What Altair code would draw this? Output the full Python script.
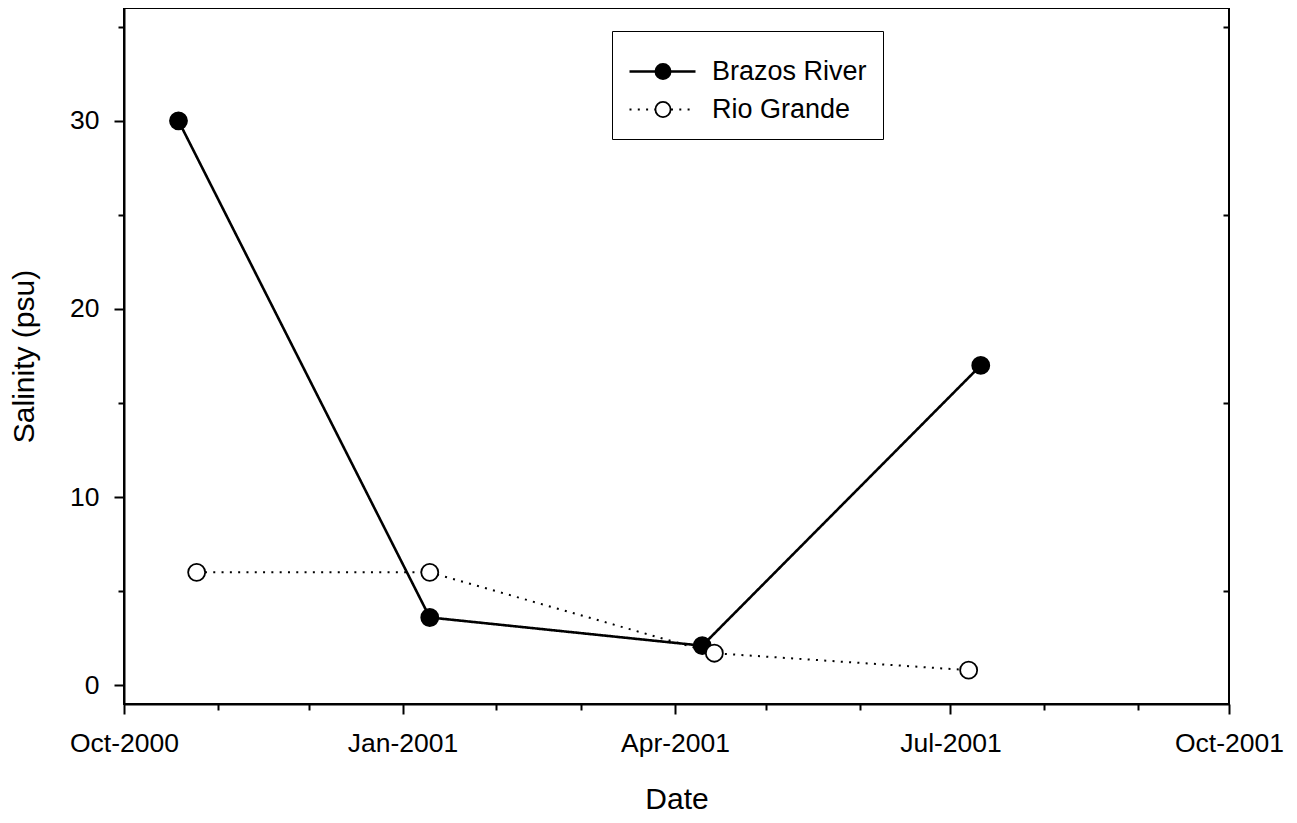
import altair as alt
import pandas as pd

# ---- data ----
brazos_dates = ["2000-10-19", "2001-01-10", "2001-04-10", "2001-07-11"]
brazos_salinity = [30.0, 3.6, 2.1, 17.0]
rio_dates = ["2000-10-25", "2001-01-10", "2001-04-14", "2001-07-07"]
rio_salinity = [6.0, 6.0, 1.7, 0.8]
series_names = ["Brazos River", "Rio Grande"]

major_ticks = [(2000, 10), (2001, 1), (2001, 4), (2001, 7), (2001, 10)]
minor_ticks = [(2000, 11), (2000, 12), (2001, 2), (2001, 3), (2001, 5),
               (2001, 6), (2001, 8), (2001, 9)]
y_major = [0, 10, 20, 30]
y_minor = [5, 15, 25, 35]

rows = []
for d, v in zip(brazos_dates, brazos_salinity):
    rows.append({"Date": d, "Salinity": v, "River": series_names[0]})
for d, v in zip(rio_dates, rio_salinity):
    rows.append({"Date": d, "Salinity": v, "River": series_names[1]})
df = pd.DataFrame(rows)
df["Site"] = df["River"]

FONT = "Liberation Sans"


def dt(y, m):
    return alt.DateTime(year=y, month=m, date=1, utc=True)


x_scale = alt.Scale(type="utc", domain=[dt(2000, 10), dt(2001, 10)])
y_scale = alt.Scale(domain=[-1, 36], nice=False, zero=False)

LEG_Y = 23
LEG_PAD = 16
LEG_TITLE = 11

base = alt.Chart(df)

lines = base.mark_line(color="black", strokeCap="butt").encode(
    x=alt.X("Date:T", scale=x_scale,
            axis=alt.Axis(orient="bottom", values=[dt(*t) for t in major_ticks],
                          format="%b-%Y", tickSize=10, labelPadding=16,
                          labelFlush=False, labelOverlap=False,
                          title="Date", titlePadding=28)),
    y=alt.Y("Salinity:Q", scale=y_scale,
            axis=alt.Axis(orient="left", values=y_major, tickSize=10,
                          labelPadding=15, title="Salinity (psu)", titlePadding=30)),
    strokeDash=alt.StrokeDash(
        "River:N",
        scale=alt.Scale(range=[[1, 0], [2, 6.3]]),
        legend=alt.Legend(
            orient="none", legendX=488, legendY=LEG_Y, title=" ",
            titleFontSize=LEG_TITLE, titlePadding=0, padding=LEG_PAD,
            symbolType="stroke", symbolSize=4356, symbolStrokeWidth=2.2,
            symbolStrokeColor="black", clipHeight=27, rowPadding=10,
            labelOffset=15, labelFont=FONT, labelFontSize=27,
            labelColor="black", labelLimit=400,
            strokeColor="black",
        ),
    ),
    strokeWidth=alt.StrokeWidth("River:N", scale=alt.Scale(range=[2.6, 2.0]),
                                legend=None),
)

points = base.mark_point(filled=True, size=290, stroke="black",
                         strokeWidth=1.8, opacity=1).encode(
    x=alt.X("Date:T", scale=x_scale,
            axis=alt.Axis(orient="bottom", values=[dt(*t) for t in minor_ticks],
                          tickSize=6, labels=False, domain=False, title=None)),
    y=alt.Y("Salinity:Q", scale=y_scale,
            axis=alt.Axis(orient="left", values=y_minor, tickSize=6,
                          labels=False, domain=False, title=None)),
    fill=alt.Fill(
        "Site:N",
        scale=alt.Scale(range=["black", "white"]),
        legend=alt.Legend(
            orient="none", legendX=509.5, legendY=LEG_Y, title=" ",
            titleFontSize=LEG_TITLE, titlePadding=0, padding=LEG_PAD,
            symbolType="circle", symbolSize=230, symbolStrokeWidth=1.8,
            symbolStrokeColor="black", clipHeight=27, rowPadding=10,
            labelFont=FONT, labelFontSize=27, labelExpr="''",
            zindex=1,
        ),
    ),
)

right_ticks = base.mark_point(opacity=0).encode(
    x=alt.X("Date:T", scale=x_scale, axis=None),
    y=alt.Y("Salinity:Q", scale=y_scale,
            axis=alt.Axis(orient="right", values=y_minor, tickSize=6,
                          offset=-6, labels=False, domain=False, title=None)),
)

chart = (
    alt.layer(lines, points, right_ticks)
    .resolve_axis(x="independent", y="independent")
    .properties(
        width=1105, height=696,
        autosize=alt.AutoSizeParams(type="none"),
        padding={"left": 116, "top": 0, "right": 60, "bottom": 111},
        background="white",
    )
    .configure_view(stroke="black", strokeWidth=2)
    .configure_axis(
        grid=False, labelFont=FONT, labelFontSize=26.5, labelColor="black",
        titleFont=FONT, titleFontSize=30, titleFontWeight="normal",
        titleColor="black", tickColor="black", tickWidth=2,
        domainColor="black", domainWidth=2,
    )
)

chart.save("out.html", embed_options={"renderer": "svg", "actions": False})
